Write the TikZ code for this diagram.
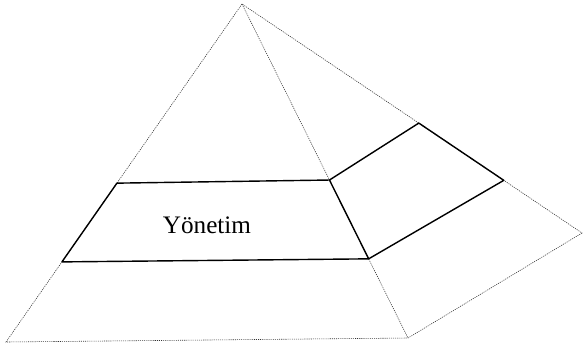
\documentclass[tikz,border=0pt]{standalone}
\usepackage{fontspec}
\setmainfont{Liberation Serif}
\usetikzlibrary{positioning, calc}

\begin{document}
\begin{tikzpicture}[
  x=0.03cm, y=-0.03cm,
  every node/.style={font=\fontsize{21.5}{25}\selectfont},
  edge/.style={dash pattern=on 0.9pt off 0.9pt, line width=0.5pt, black!80},
  band/.style={line width=1.2pt, line join=round}
]
  \useasboundingbox (0,0) rectangle (583,352);
  % pyramid corners
  \coordinate (apex) at (242,4);
  \coordinate (fl) at (6,342);
  \coordinate (fr) at (408,338);
  \coordinate (rc) at (582,233);
  % band corners on the edges
  \coordinate (bl1) at ($(apex)!0.53!(fl)$);
  \coordinate (bl2) at ($(apex)!0.763!(fl)$);
  \coordinate (bf1) at ($(apex)!0.527!(fr)$);
  \coordinate (bf2) at ($(apex)!0.763!(fr)$);
  \coordinate (br1) at ($(apex)!0.52!(rc)$);
  \coordinate (br2) at ($(apex)!0.77!(rc)$);

  \draw[edge] (apex) -- (fl) -- (fr) -- (rc) -- cycle;
  \draw[edge] (apex) -- (fr);
  \draw[band] (bl1) -- (bf1) -- (bf2) -- (bl2) -- cycle;
  \draw[band] (bf1) -- (br1) -- (br2) -- (bf2);
  \node (mgmt) at (207,225) {Yönetim};
\end{tikzpicture}
\end{document}
